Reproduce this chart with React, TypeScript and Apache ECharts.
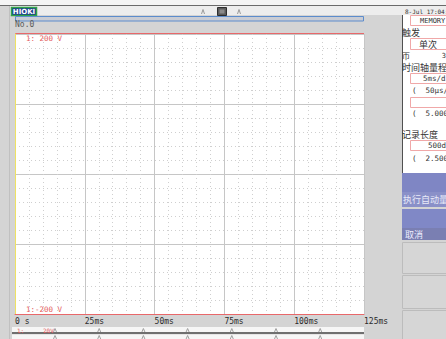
import React, { useEffect, useRef } from 'react';
import * as echarts from 'echarts';

// ---- data ----
const timeTicks = [0, 25, 50, 75, 100, 125];
const timeLabels = ['0 s', '25ms', '50ms', '75ms', '100ms', '125ms'];
const voltRange = [-200, 200];
const voltLabels = ['-200 V', '200 V'];
const ch1Name = '1:';
const ch1Scale = '20V';
const ch1Data: [number, number][] = []; // no trace recorded
const modeText = 'MEMORY';
const panelLabels = ['触发', '帀', '时间轴量程', '记录长度'];
const panelValues = ['单次', '3', '5ms/div', '(  50μs/s)', '', '(  5.000ms)', '500div', '(  2.500s)'];
const buttonLabels = ['执行自动量程', '取消'];
const headerTitle = 'No.0';
const clockText = '8-Jul 17:04:';

const MONO = '"DejaVu Sans Mono", "Liberation Mono", monospace';
const CJK = '"Noto Sans CJK SC", sans-serif';

function buildGraphics() {
  const g: any[] = [];
  const PX = 402;
  // top bar
  g.push({ type: 'rect', shape: { x: 0, y: 0, width: 446, height: 5 }, style: { fill: '#f4f4f4' } });
  g.push({ type: 'rect', shape: { x: 10, y: 6, width: 436, height: 9 }, style: { fill: '#ededed' } });
  g.push({ type: 'line', shape: { x1: 0, y1: 5.5, x2: 446, y2: 5.5 }, style: { stroke: '#6a6a6a', lineWidth: 1 } });
  g.push({ type: 'line', shape: { x1: 9.5, y1: 6, x2: 9.5, y2: 339 }, style: { stroke: '#c0c0c0', lineWidth: 1 } });
  // logo
  g.push({ type: 'rect', shape: { x: 11.5, y: 7.5, width: 25, height: 8 }, style: { fill: '#1d3d8f', stroke: '#2fa347', lineWidth: 1.5 } });
  g.push({ type: 'text', x: 24, y: 11.8, style: { text: 'HIOKI', fill: '#ffffff', font: 'bold 7px "DejaVu Sans", sans-serif', textAlign: 'center', textVerticalAlign: 'middle' } });
  // centre icon
  g.push({ type: 'rect', shape: { x: 217.5, y: 7.5, width: 9, height: 8 }, style: { fill: '#5a5a5a', stroke: '#2e2e2e', lineWidth: 1 } });
  g.push({ type: 'rect', shape: { x: 219.5, y: 9.5, width: 5, height: 4 }, style: { fill: '#8a8a8a' } });
  [203, 239].forEach((x) => {
    g.push({ type: 'polyline', shape: { points: [[x - 1.5, 14], [x, 9.5], [x + 1.5, 14]] }, style: { stroke: '#9a9a9a', fill: 'none', lineWidth: 1 } });
  });
  g.push({ type: 'text', x: 405, y: 11, style: { text: clockText, fill: '#333', font: `6px ${MONO}`, textVerticalAlign: 'middle' } });
  // trigger bar
  g.push({ type: 'rect', shape: { x: 15.5, y: 16.5, width: 348, height: 4.5 }, style: { fill: '#c9ccd4', stroke: '#5c8ccc', lineWidth: 1 } });
  g.push({ type: 'text', x: 15, y: 24.5, style: { text: headerTitle, fill: '#5a5a5a', font: `8px ${MONO}`, textVerticalAlign: 'middle' } });
  // top red frame line of the plot
  g.push({ type: 'line', shape: { x1: 15, y1: 33.5, x2: 364, y2: 33.5 }, style: { stroke: '#e8686a', lineWidth: 1 } });
  // channel range labels
  const red = (t: string, x: number, y: number, size: number, align = 'left') =>
    g.push({ type: 'text', x, y, style: { text: t, fill: '#e45c5c', font: `${size}px ${MONO}`, textAlign: align, textVerticalAlign: 'middle' } });
  red(ch1Name, 26, 38, 7.5);
  red(voltLabels[1], 62, 38, 7.5, 'right');
  red(ch1Name, 26, 309.5, 7.5);
  red(voltLabels[0], 62, 309.5, 7.5, 'right');
  // bottom strip
  g.push({ type: 'rect', shape: { x: 12, y: 327, width: 352, height: 5 }, style: { fill: '#f6f6f6' } });
  g.push({ type: 'rect', shape: { x: 12, y: 334.5, width: 352, height: 5 }, style: { fill: '#f6f6f6' } });
  g.push({ type: 'line', shape: { x1: 12, y1: 333, x2: 364, y2: 333 }, style: { stroke: '#4e4e4e', lineWidth: 1.5 } });
  for (let x = 55; x < 364; x += 44.2) {
    g.push({ type: 'polyline', shape: { points: [[x - 1.5, 332], [x, 328.5], [x + 1.5, 332]] }, style: { stroke: '#a0a0a0', fill: 'none', lineWidth: 1 } });
    g.push({ type: 'polyline', shape: { points: [[x - 1.5, 339], [x, 335.5], [x + 1.5, 339]] }, style: { stroke: '#a0a0a0', fill: 'none', lineWidth: 1 } });
  }
  red(ch1Name, 17, 330, 6);
  red(ch1Scale, 43, 330, 6);

  // right panel
  g.push({ type: 'rect', shape: { x: PX, y: 15, width: 44, height: 158 }, style: { fill: '#ffffff' } });
  g.push({ type: 'line', shape: { x1: PX + 0.5, y1: 15, x2: PX + 0.5, y2: 173 }, style: { stroke: '#505050', lineWidth: 1 } });
  const box = (y: number, h: number, x = 410) =>
    g.push({ type: 'rect', shape: { x: x + 0.5, y: y + 0.5, width: 446 - x, height: h }, style: { fill: '#fff', stroke: '#f0a8a8', lineWidth: 1 } });
  const txt = (t: string, x: number, y: number, font: string, align = 'left', fill = '#333') =>
    g.push({ type: 'text', x, y, style: { text: t, fill, font, textAlign: align, textVerticalAlign: 'middle' } });
  box(15, 10);
  txt(modeText, 420, 20.5, `7px ${MONO}`);
  txt(panelLabels[0], PX, 32, `9px ${CJK}`);
  box(38, 11);
  txt(panelValues[0], 428, 44, `9px ${CJK}`, 'center');
  txt(panelLabels[1], PX, 55.5, `8px ${CJK}`);
  txt(panelValues[1], 446, 55.5, `7px ${MONO}`, 'right');
  txt(panelLabels[2], PX, 67, `9px ${CJK}`);
  box(73, 10);
  txt(panelValues[2], 423, 78.5, `7.5px ${MONO}`);
  txt(panelValues[3], 412, 90, `7.5px ${MONO}`);
  box(97, 10);
  txt(panelValues[5], 412, 113.5, `7.5px ${MONO}`);
  txt(panelLabels[3], PX, 134, `9px ${CJK}`);
  box(140, 10);
  txt(panelValues[6], 428, 145.5, `7.5px ${MONO}`);
  txt(panelValues[7], 412, 158.5, `7.5px ${MONO}`);
  // buttons
  g.push({ type: 'rect', shape: { x: PX, y: 173, width: 44, height: 34 }, style: { fill: '#7f86c4' } });
  g.push({ type: 'rect', shape: { x: PX, y: 192, width: 44, height: 15 }, style: { fill: '#8a90c8' } });
  txt(buttonLabels[0], PX + 1, 199, `9px ${CJK}`, 'left', '#e8eaf8');
  g.push({ type: 'rect', shape: { x: PX, y: 209, width: 44, height: 31 }, style: { fill: '#8088c6' } });
  g.push({ type: 'rect', shape: { x: PX, y: 228, width: 44, height: 12 }, style: { fill: '#7a7fb2' } });
  txt(buttonLabels[1], PX + 3, 234, `9px ${CJK}`, 'left', '#eeeeff');
  [[242, 31], [275, 33], [310, 30]].forEach(([y, h]) => {
    g.push({ type: 'rect', shape: { x: PX + 0.5, y: y + 0.5, width: 45, height: h }, style: { fill: '#d6d6d6', stroke: '#bcbcbc', lineWidth: 1 } });
  });
  return g;
}

export default function App() {
  const ref = useRef<HTMLDivElement>(null);
  useEffect(() => {
    if (!ref.current) return;
    const chart = echarts.init(ref.current, undefined, { renderer: 'svg' });
    chart.setOption({
      animation: false,
      backgroundColor: '#d4d4d4',
      grid: { left: 15, top: 34, width: 349, height: 280, show: true, backgroundColor: '#ffffff', borderWidth: 0 },
      xAxis: {
        type: 'value',
        min: timeTicks[0],
        max: timeTicks[timeTicks.length - 1],
        interval: 25,
        axisLine: { show: true, onZero: false, lineStyle: { color: '#e8686a', width: 1 } },
        axisTick: { show: false },
        axisLabel: {
          formatter: (v: number) => timeLabels[timeTicks.indexOf(v)] ?? '',
          align: 'left',
          margin: 3,
          color: '#2a2a2a',
          fontFamily: MONO,
          fontSize: 8,
          showMaxLabel: true,
          showMinLabel: true,
        },
        splitLine: { show: true, lineStyle: { color: '#c6c6c6', width: 1 } },
        minorTick: { show: false, splitNumber: 5 },
        minorSplitLine: { show: true, lineStyle: { color: '#cfcfcf', width: 1, type: [1, 3] } },
      },
      yAxis: {
        type: 'value',
        min: voltRange[0],
        max: voltRange[1],
        interval: 100,
        axisLine: { show: true, onZero: false, lineStyle: { color: '#eee264', width: 1 } },
        axisTick: { show: false },
        axisLabel: { show: false },
        splitLine: { show: true, lineStyle: { color: '#c6c6c6', width: 1 } },
        minorTick: { show: false, splitNumber: 5 },
        minorSplitLine: { show: true, lineStyle: { color: '#cfcfcf', width: 1, type: [1, 3] } },
      },
      series: [
        { name: 'CH1', type: 'line', data: ch1Data, showSymbol: false, lineStyle: { color: '#e45c5c', width: 1 } },
      ],
      graphic: buildGraphics(),
    });
    return () => chart.dispose();
  }, []);
  return <div ref={ref} style={{ position: 'fixed', left: 0, top: 0, width: 446, height: 339 }} />;
}
